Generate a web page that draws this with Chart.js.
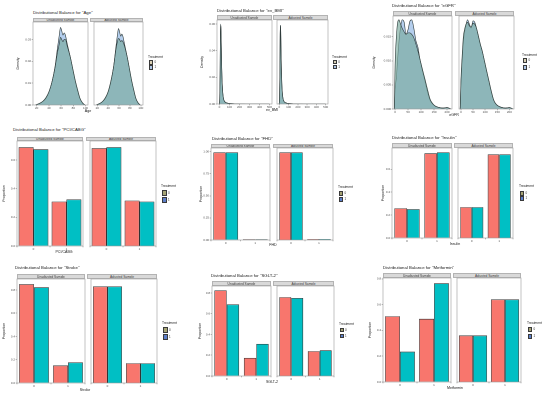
<!DOCTYPE html>
<html><head><meta charset="utf-8">
<script src="https://cdn.jsdelivr.net/npm/chart.js@4.4.1/dist/chart.umd.min.js"></script>
<style>
html,body{margin:0;padding:0;background:#fff;}
#root{position:relative;width:550px;height:395px;overflow:hidden;font-family:"Liberation Sans",Arial,sans-serif;}
.t{position:absolute;white-space:nowrap;color:#1a1a1a;line-height:1;}
.strip{position:absolute;background:#d9d9d9;border:0.4px solid #b3b3b3;box-sizing:border-box;color:#3a3a3a;text-align:center;white-space:nowrap;overflow:hidden;}
canvas{position:absolute;}
.key{position:absolute;border:0.6px solid #3a3a3a;box-sizing:border-box;}
</style></head>
<body><div id="root"></div>
<script>
// ---------- data ----------
const treatments = ["0", "1"];
const samples = ["Unadjusted Sample", "Adjusted Sample"];
const binCats = ["0", "1"];

// Age density
const ageX = [18, 25, 30, 35, 40, 45, 50, 54, 57, 59, 61, 63, 65, 67, 70, 75, 80, 83, 87, 91, 95, 99];
const ageUnadj0 = [0, 0.0008, 0.0017, 0.0033, 0.006, 0.0105, 0.017, 0.024, 0.028, 0.031, 0.030, 0.029, 0.030, 0.030, 0.027, 0.022, 0.0155, 0.0115, 0.007, 0.003, 0.001, 0];
const ageUnadj1 = [0, 0.0007, 0.0016, 0.003, 0.0058, 0.0105, 0.0175, 0.026, 0.032, 0.0355, 0.034, 0.032, 0.033, 0.032, 0.028, 0.022, 0.015, 0.011, 0.0065, 0.0028, 0.0009, 0];
const ageAdj0 = [0, 0.0008, 0.0017, 0.0034, 0.0062, 0.011, 0.0175, 0.025, 0.029, 0.0305, 0.030, 0.029, 0.0295, 0.029, 0.027, 0.022, 0.0155, 0.0115, 0.007, 0.003, 0.001, 0];
const ageAdj1 = [0, 0.0007, 0.0016, 0.0031, 0.0058, 0.0105, 0.0175, 0.026, 0.032, 0.035, 0.0335, 0.0315, 0.0325, 0.0315, 0.028, 0.022, 0.015, 0.011, 0.0066, 0.0028, 0.0009, 0];
const ageXTicks = [20, 40, 60, 80, 100];
const ageYTicks = [0, 0.01, 0.02, 0.03];

// ev_BMI density
const bmiX = [-2, 2, 6, 9, 12, 15, 18, 22, 27, 33, 40, 50, 65, 90, 130, 200, 300, 400, 500];
const bmiUnadj0 = [0, 0.004, 0.025, 0.052, 0.060, 0.055, 0.042, 0.027, 0.015, 0.008, 0.004, 0.002, 0.001, 0.0005, 0.0002, 0.0001, 0, 0, 0];
const bmiUnadj1 = [0, 0.003, 0.022, 0.050, 0.0595, 0.056, 0.044, 0.028, 0.016, 0.008, 0.004, 0.002, 0.001, 0.0005, 0.0002, 0.0001, 0, 0, 0];
const bmiAdj0 = [0, 0.004, 0.024, 0.051, 0.059, 0.055, 0.042, 0.027, 0.015, 0.008, 0.004, 0.002, 0.001, 0.0005, 0.0002, 0.0001, 0, 0, 0];
const bmiAdj1 = [0, 0.003, 0.022, 0.050, 0.0590, 0.056, 0.043, 0.028, 0.016, 0.008, 0.004, 0.002, 0.001, 0.0005, 0.0002, 0.0001, 0, 0, 0];
const bmiXTicks = [0, 100, 200, 300, 400, 500];
const bmiYTicks = [0, 0.02, 0.04, 0.06];

// eGFR density
const egfrX = [-3, 0, 5, 10, 15, 20, 27, 35, 42, 50, 57, 64, 72, 80, 88, 95, 105, 115, 125, 135, 145, 155, 170, 185, 200, 215];
const egfrUnadj0 = [0, 0.009, 0.015, 0.0180, 0.0185, 0.0178, 0.0168, 0.0160, 0.0155, 0.0158, 0.0158, 0.0155, 0.0148, 0.0135, 0.0120, 0.0105, 0.0083, 0.0062, 0.0040, 0.0020, 0.0011, 0.0006, 0.0003, 0.0002, 0.0003, 0];
const egfrUnadj1 = [0, 0.004, 0.0065, 0.0105, 0.0140, 0.0165, 0.0185, 0.0180, 0.0155, 0.0165, 0.0182, 0.0185, 0.0168, 0.0142, 0.0128, 0.0105, 0.0080, 0.0058, 0.0035, 0.0018, 0.0010, 0.0006, 0.0003, 0.0002, 0.0003, 0];
const egfrAdj0 = [0, 0.006, 0.011, 0.0150, 0.0165, 0.0175, 0.0180, 0.0172, 0.0170, 0.0178, 0.0176, 0.0168, 0.0152, 0.0135, 0.0120, 0.0105, 0.0082, 0.0060, 0.0038, 0.0019, 0.0010, 0.0006, 0.0003, 0.0002, 0.0003, 0];
const egfrAdj1 = [0, 0.005, 0.010, 0.0140, 0.0160, 0.0172, 0.0185, 0.0176, 0.0168, 0.0183, 0.0180, 0.0168, 0.0150, 0.0133, 0.0120, 0.0103, 0.0080, 0.0058, 0.0036, 0.0018, 0.0010, 0.0006, 0.0003, 0.0002, 0.0003, 0];
const egfrXTicks = [0, 50, 100, 150, 200];
const egfrYTicks = [0, 0.005, 0.010, 0.015];

// proportions: [category 0, category 1]
const pciUnadj0 = [0.69, 0.31], pciUnadj1 = [0.675, 0.325], pciAdj0 = [0.683, 0.317], pciAdj1 = [0.69, 0.31];
const fhdUnadj0 = [0.99, 0.01], fhdUnadj1 = [0.99, 0.01], fhdAdj0 = [0.99, 0.01], fhdAdj1 = [0.99, 0.01];
const insUnadj0 = [0.26, 0.74], insUnadj1 = [0.252, 0.748], insAdj0 = [0.27, 0.73], insAdj1 = [0.27, 0.73];
const strUnadj0 = [0.85, 0.15], strUnadj1 = [0.823, 0.177], strAdj0 = [0.83, 0.17], strAdj1 = [0.83, 0.17];
const sgUnadj0 = [0.825, 0.175], sgUnadj1 = [0.69, 0.31], sgAdj0 = [0.76, 0.24], sgAdj1 = [0.752, 0.248];
const metUnadj0 = [0.51, 0.49], metUnadj1 = [0.235, 0.765], metAdj0 = [0.36, 0.64], metAdj1 = [0.36, 0.64];
const propTicks6 = [0, 0.2, 0.4, 0.6];
const propTicks8 = [0, 0.2, 0.4, 0.6, 0.8];
const fhdTicks = [0, 0.25, 0.5, 0.75, 1.0];

// ---------- drawing ----------
const root = document.getElementById('root');
const FONT = '"Liberation Sans", Arial, sans-serif';
const PINK = '#F8766D', CYAN = '#00BFC4';
const DENS0 = 'rgba(122,170,158,0.66)', DENS1 = 'rgba(176,203,236,0.95)';

function text(str, x, y, size, center, color) {
  const d = document.createElement('div');
  d.className = 't'; d.textContent = str;
  d.style.left = x + 'px'; d.style.top = y + 'px'; d.style.fontSize = size + 'px';
  if (center) d.style.transform = 'translateX(-50%)';
  if (color) d.style.color = color;
  root.appendChild(d); return d;
}

const borderPlugin = {
  id: 'panelBorder',
  afterDatasetsDraw(chart) {
    const a = chart.chartArea, ctx = chart.ctx;
    ctx.save(); ctx.strokeStyle = '#9a9a9a'; ctx.lineWidth = 0.6;
    ctx.strokeRect(a.left, a.top, a.right - a.left, a.bottom - a.top);
    ctx.restore();
  }
};

function facet(g, i, kind, ds) {
  const f = g.facets[i];
  const showY = i === 0;
  const PT = 3, PR = 5, XH = 6;
  const yw = showY ? (f[0] - g.yl) : 4;
  const cl = f[0] - yw, ct = g.top - PT;
  const w = (f[1] - f[0]) + yw + PR;
  const h = (g.bottom - g.top) + PT + XH;
  const c = document.createElement('canvas');
  c.style.left = cl + 'px'; c.style.top = ct + 'px';
  c.width = w; c.height = h; c.style.width = w + 'px'; c.style.height = h + 'px';
  root.appendChild(c);
  const tickFont = { size: 3, family: FONT };
  const gridCfg = { display: true, drawOnChartArea: false, drawTicks: true, tickLength: 1.3, color: '#444', lineWidth: 0.4 };
  const yScale = {
    min: 0, max: g.yMax, display: showY,
    afterBuildTicks: s => { s.ticks = g.yTicks.map(v => ({ value: v })); },
    afterFit: s => { s.width = yw; },
    grid: gridCfg, border: { display: false },
    ticks: { font: tickFont, color: '#4d4d4d', padding: 0.6, callback: v => v.toFixed(g.yDec) },
    title: { display: true, text: g.yTitle, font: { size: 3.6, family: FONT }, color: '#1a1a1a', padding: 0 }
  };
  let cfg;
  if (kind === 'bar') {
    cfg = {
      type: 'bar',
      data: { labels: binCats, datasets: ds.map((d, k) => ({
        label: treatments[k], data: d, backgroundColor: k === 0 ? PINK : CYAN,
        borderColor: '#333', borderWidth: 0.7, categoryPercentage: g.catPct, barPercentage: 1 })) },
      options: {}
    };
    cfg.options.scales = {
      x: { grid: gridCfg, border: { display: false }, afterFit: s => { s.height = XH; },
           ticks: { font: tickFont, color: '#4d4d4d', padding: 0.3, maxRotation: 0 } },
      y: yScale
    };
  } else {
    cfg = {
      type: 'line',
      data: { datasets: ds.map((d, k) => ({
        label: treatments[k], data: g.xs.map((x, j) => ({ x: x, y: d[j] })),
        backgroundColor: k === 0 ? DENS0 : DENS1, borderColor: '#2e3a3a', borderWidth: 0.6,
        fill: 'origin', pointRadius: 0, cubicInterpolationMode: 'monotone' })) },
      options: {}
    };
    cfg.options.scales = {
      x: { type: 'linear', min: g.xMin, max: g.xMax, grid: gridCfg, border: { display: false },
           afterBuildTicks: s => { s.ticks = g.xTicks.map(v => ({ value: v })); },
           afterFit: s => { s.height = XH; },
           ticks: { font: tickFont, color: '#4d4d4d', padding: 0.3, maxRotation: 0 } },
      y: yScale
    };
  }
  Object.assign(cfg.options, {
    animation: false, responsive: false, devicePixelRatio: 2,
    layout: { padding: { top: PT, right: PR, left: showY ? 0 : yw, bottom: 0 } },
    plugins: { legend: { display: false }, tooltip: { enabled: false } }
  });
  cfg.plugins = [borderPlugin];
  new Chart(c, cfg);
}

function panel(g, kind, sets, legendCols) {
  text(g.title, g.tx, g.ty, 4.3);
  g.facets.forEach((f, i) => {
    const s = document.createElement('div');
    s.className = 'strip';
    s.style.left = f[0] + 'px'; s.style.top = g.sTop + 'px';
    s.style.width = (f[1] - f[0]) + 'px'; s.style.height = (g.top - g.sTop) + 'px';
    s.style.fontSize = '3.2px'; s.style.lineHeight = (g.top - g.sTop - 0.8) + 'px';
    s.textContent = samples[i];
    root.appendChild(s);
    facet(g, i, kind, sets[i]);
  });
  text(g.xTitle, g.xc, g.xy, 3.6, true);
  text('Treatment', g.lx, g.ly, 3.3);
  treatments.forEach((t, k) => {
    const d = document.createElement('div');
    d.className = 'key';
    d.style.left = (g.lx + 0.5) + 'px'; d.style.top = g.ky[k] + 'px';
    d.style.width = g.kw + 'px'; d.style.height = g.kh + 'px';
    d.style.background = legendCols[k];
    root.appendChild(d);
    text(t, g.lx + g.kw + 2, g.ky[k] + g.kh / 2 - 1.5, 3, false, '#333');
  });
}

const densLegend = ['#d8cfb4', '#aec6e6'];
const barLegend = ['#a6a474', '#5c7ec8'];

panel({ title: 'Distributional Balance for "Age"', tx: 33, ty: 11, sTop: 18, top: 22, bottom: 105,
  facets: [[33, 88], [90, 143]], yl: 16, yTitle: 'Density', yTicks: ageYTicks, yMax: 0.038, yDec: 2,
  xs: ageX, xMin: 14, xMax: 104, xTicks: ageXTicks, xTitle: 'Age', xc: 88, xy: 109.5,
  lx: 148, ly: 55.5, ky: [60, 65], kw: 4.5, kh: 4.5 }, 'density',
  [[ageUnadj0, ageUnadj1], [ageAdj0, ageAdj1]], densLegend);

panel({ title: 'Distributional Balance for "ev_BMI"', tx: 217, ty: 9, sTop: 15, top: 20, bottom: 104,
  facets: [[217, 272], [273, 328]], yl: 200, yTitle: 'Density', yTicks: bmiYTicks, yMax: 0.063, yDec: 2,
  xs: bmiX, xMin: -25, xMax: 525, xTicks: bmiXTicks, xTitle: 'ev_BMI', xc: 272, xy: 108.5,
  lx: 332, ly: 55.5, ky: [60, 65], kw: 4.2, kh: 4.3 }, 'density',
  [[bmiUnadj0, bmiUnadj1], [bmiAdj0, bmiAdj1]], densLegend);

panel({ title: 'Distributional Balance for "eGFR"', tx: 392, ty: 4, sTop: 11, top: 16, bottom: 109,
  facets: [[393, 452], [455, 514]], yl: 372, yTitle: 'Density', yTicks: egfrYTicks, yMax: 0.0193, yDec: 3,
  xs: egfrX, xMin: -8, xMax: 219, xTicks: egfrXTicks, xTitle: 'eGFR', xc: 454, xy: 113.5,
  lx: 522, ly: 54, ky: [58.3, 65], kw: 4.6, kh: 4.5 }, 'density',
  [[egfrUnadj0, egfrUnadj1], [egfrAdj0, egfrAdj1]], densLegend);

panel({ title: 'Distributional Balance for "PCI/CABG"', tx: 13, ty: 128, sTop: 137, top: 141, bottom: 246,
  facets: [[17, 83], [86, 156]], yl: 2, yTitle: 'Proportion', yTicks: propTicks6, yMax: 0.733, yDec: 1,
  catPct: 0.9, xTitle: 'PCI/CABG', xc: 64, xy: 251,
  lx: 161, ly: 185, ky: [190.3, 197], kw: 5, kh: 6 }, 'bar',
  [[pciUnadj0, pciUnadj1], [pciAdj0, pciAdj1]], barLegend);

panel({ title: 'Distributional Balance for "FHD"', tx: 212, ty: 136.5, sTop: 144, top: 148, bottom: 240,
  facets: [[211, 270], [273, 333]], yl: 199, yTitle: 'Proportion', yTicks: fhdTicks, yMax: 1.04, yDec: 2,
  catPct: 0.84, xTitle: 'FHD', xc: 273, xy: 244,
  lx: 338, ly: 185.5, ky: [191, 196.7], kw: 4.4, kh: 5 }, 'bar',
  [[fhdUnadj0, fhdUnadj1], [fhdAdj0, fhdAdj1]], barLegend);

panel({ title: 'Distributional Balance for "Insulin"', tx: 392, ty: 135.5, sTop: 143, top: 148, bottom: 238,
  facets: [[392, 452], [454, 513]], yl: 381, yTitle: 'Proportion', yTicks: propTicks6, yMax: 0.786, yDec: 1,
  catPct: 0.84, xTitle: 'Insulin', xc: 455, xy: 243,
  lx: 519, ly: 185, ky: [190.7, 196], kw: 4.4, kh: 5 }, 'bar',
  [[insUnadj0, insUnadj1], [insAdj0, insAdj1]], barLegend);

panel({ title: 'Distributional Balance for "Stroke"', tx: 15, ty: 266, sTop: 274, top: 279, bottom: 383,
  facets: [[17, 85], [87, 157]], yl: 2, yTitle: 'Proportion', yTicks: propTicks8, yMax: 0.894, yDec: 1,
  catPct: 0.88, xTitle: 'Stroke', xc: 85, xy: 388.5,
  lx: 162, ly: 322, ky: [327.3, 334], kw: 5, kh: 6 }, 'bar',
  [[strUnadj0, strUnadj1], [strAdj0, strAdj1]], barLegend);

panel({ title: 'Distributional Balance for "SGLT-2"', tx: 211, ty: 273.5, sTop: 281, top: 286, bottom: 376,
  facets: [[212, 271], [273, 334]], yl: 198, yTitle: 'Proportion', yTicks: propTicks8, yMax: 0.867, yDec: 1,
  catPct: 0.84, xTitle: 'SGLT-2', xc: 272, xy: 380.5,
  lx: 339, ly: 323, ky: [327.7, 333.7], kw: 4, kh: 4.8 }, 'bar',
  [[sgUnadj0, sgUnadj1], [sgAdj0, sgAdj1]], barLegend);

panel({ title: 'Distributional Balance for "Metformin"', tx: 383, ty: 266, sTop: 273, top: 278, bottom: 382,
  facets: [[383, 451], [453, 521]], yl: 368, yTitle: 'Proportion', yTicks: propTicks8, yMax: 0.806, yDec: 1,
  catPct: 0.88, xTitle: 'Metformin', xc: 455, xy: 387,
  lx: 527, ly: 321.5, ky: [326.7, 333.7], kw: 4.4, kh: 5.5 }, 'bar',
  [[metUnadj0, metUnadj1], [metAdj0, metAdj1]], barLegend);
</script>
</body></html>
